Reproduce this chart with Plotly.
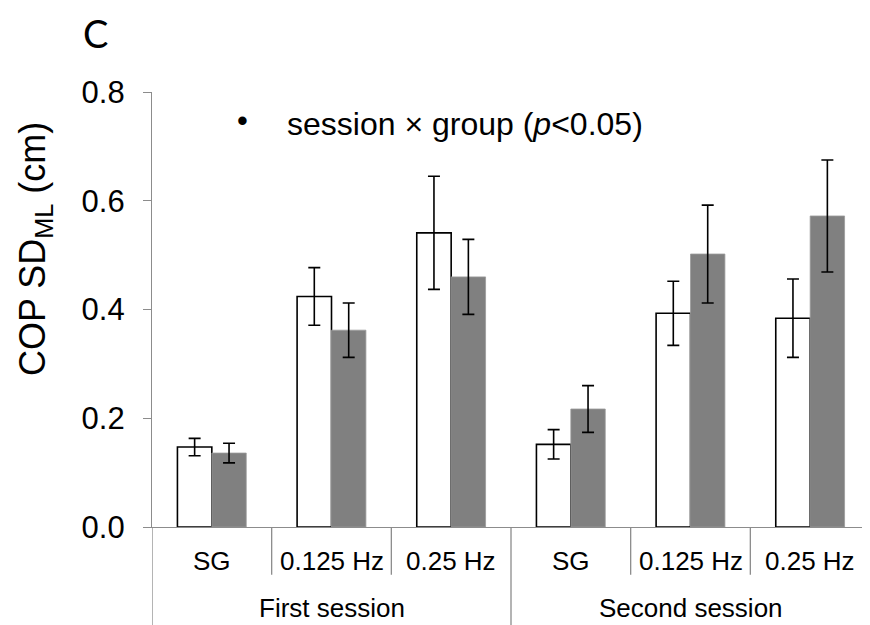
import plotly.graph_objects as go

# ---- data ----
conditions = ["SG", "0.125 Hz", "0.25 Hz", "SG", "0.125 Hz", "0.25 Hz"]
sessions = ["First session", "Second session"]
conds_per_session = 3

white_vals = [0.147, 0.424, 0.541, 0.152, 0.393, 0.384]
white_err = [0.016, 0.053, 0.104, 0.027, 0.059, 0.072]
gray_vals = [0.136, 0.362, 0.460, 0.217, 0.502, 0.572]
gray_err = [0.018, 0.050, 0.069, 0.043, 0.090, 0.103]

y_ticks = [0.0, 0.2, 0.4, 0.6, 0.8]

FONT = "Liberation Sans, Arial, sans-serif"
AXIS_GRAY = "#8c8c8c"

xpos = list(range(len(conditions)))

fig = go.Figure()
fig.add_trace(go.Bar(
    x=xpos, y=white_vals,
    marker=dict(color="white", line=dict(color="black", width=1.6)),
    error_y=dict(type="data", array=white_err, color="black", thickness=1.6, width=6),
    showlegend=False,
))
fig.add_trace(go.Bar(
    x=xpos, y=gray_vals,
    marker=dict(color="#808080", line=dict(color="#9a9a9a", width=0.8)),
    error_y=dict(type="data", array=gray_err, color="black", thickness=1.6, width=6),
    showlegend=False,
))

annotations = []
# inner category labels
for i, lab in enumerate(conditions):
    annotations.append(dict(
        x=i, xref="x", y=0, yref="paper", yshift=-34, yanchor="middle",
        text=lab, showarrow=False, font=dict(family=FONT, size=26, color="black")))
# outer session labels
for j, s in enumerate(sessions):
    center = j * conds_per_session + (conds_per_session - 1) / 2
    annotations.append(dict(
        x=center, xref="x", y=0, yref="paper", yshift=-81, yanchor="middle",
        text=s, showarrow=False, font=dict(family=FONT, size=26, color="black")))

# panel letter
annotations.append(dict(
    x=0, xref="paper", xshift=-57, y=1, yref="paper", yshift=84,
    text="C", showarrow=False, xanchor="center", yanchor="top",
    font=dict(family="Lato, Open Sans, sans-serif", size=38, color="black")))
# statistics note
annotations.append(dict(
    x=0, xref="paper", xshift=90, y=1, yref="paper", yshift=-28,
    text="•", showarrow=False, xanchor="center", yanchor="middle",
    font=dict(family=FONT, size=31, color="black")))
annotations.append(dict(
    x=0, xref="paper", xshift=133, y=1, yref="paper", yshift=-32,
    text="session × group (<i>p</i>&lt;0.05)", showarrow=False,
    xanchor="left", yanchor="middle",
    font=dict(family=FONT, size=32, color="black")))
# y title
annotations.append(dict(
    x=0, xref="paper", xshift=-117, y=0.639, yref="paper",
    text="COP SD<sub>ML</sub> (cm)", showarrow=False, textangle=-90,
    xanchor="center", yanchor="middle",
    font=dict(family=FONT, size=36, color="black")))

shapes = []
n = len(conditions)
for b in range(n + 1):
    xb = b - 0.5
    outer = (b % conds_per_session == 0)
    shapes.append(dict(type="line", xref="x", yref="paper",
                       x0=xb, x1=xb, y0=0, y1=(-0.23 if outer else -0.11),
                       line=dict(color=AXIS_GRAY, width=1.3)))

# the page adds an 8 px body margin, so the figure is sized to fit the window
fig.update_layout(
    width=862, height=617,
    margin=dict(l=144, r=0, t=84, b=98),
    paper_bgcolor="white", plot_bgcolor="white",
    barmode="group", bargap=0.425, bargroupgap=0,
    annotations=annotations, shapes=shapes,
    xaxis=dict(range=[-0.5, n - 0.5], showticklabels=False, ticks="",
               showline=True, linecolor=AXIS_GRAY, linewidth=1.3,
               showgrid=False, zeroline=False, fixedrange=True),
    yaxis=dict(range=[0, 0.8], tickvals=y_ticks,
               ticktext=[f"{v:.1f}" for v in y_ticks],
               ticks="outside", ticklen=8, tickcolor=AXIS_GRAY, tickwidth=1.3,
               showline=True, linecolor=AXIS_GRAY, linewidth=1.3,
               showgrid=False, zeroline=False,
               tickfont=dict(family=FONT, size=31, color="black"),
               ticklabelstandoff=12),
)

fig.write_html("out.html")
